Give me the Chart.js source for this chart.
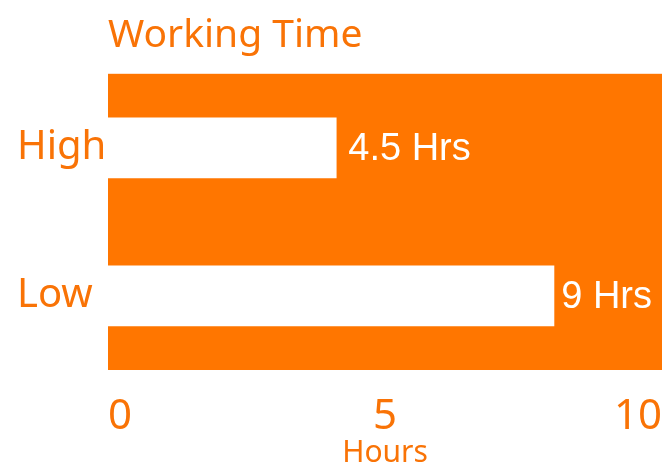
<!DOCTYPE html>
<html>
<head>
<meta charset="utf-8">
<script src="https://cdn.jsdelivr.net/npm/chart.js@4"></script>
<style>
  html, body { margin: 0; padding: 0; background: #ffffff; }
  #wrap { width: 668px; height: 471px; }
</style>
</head>
<body>
<div id="wrap"><canvas id="chart"></canvas></div>
<script>
/* Working Time — horizontal bars on an orange plot area */

const categories = ["High", "Low"];
const hours = [4.12, 8.05];
const valueLabels = ["4.5 Hrs", "9 Hrs"];
const xMin = 0;
const xMax = 10;
const xStep = 5;

const ORANGE = "#FF7600";
const TEXT = "#F97306";
const FONT = "'Noto Sans', 'Open Sans', sans-serif";

// fill the chart area with orange before anything else is drawn
const areaBg = {
  id: "areaBg",
  beforeDraw(chart) {
    const { ctx, chartArea: a } = chart;
    ctx.save();
    ctx.fillStyle = ORANGE;
    ctx.fillRect(a.left, a.top, a.right - a.left, a.bottom - a.top);
    ctx.restore();
  }
};

// "x Hrs" text just past the end of each bar, kept inside the plot area
const barText = {
  id: "barText",
  afterDatasetsDraw(chart) {
    const { ctx, chartArea: a } = chart;
    const meta = chart.getDatasetMeta(0);
    ctx.save();
    ctx.fillStyle = "#ffffff";
    ctx.font = "38px 'Liberation Sans', Arial, sans-serif";
    ctx.textAlign = "left";
    ctx.textBaseline = "middle";
    meta.data.forEach((bar, i) => {
      const w = ctx.measureText(valueLabels[i]).width;
      const x = Math.min(bar.x + 12, a.right - 10 - w);
      ctx.fillText(valueLabels[i], x, bar.y + 2);
    });
    ctx.restore();
  }
};

new Chart(document.getElementById("chart"), {
  type: "bar",
  data: {
    labels: categories,
    datasets: [{
      data: hours,
      backgroundColor: "#ffffff",
      borderWidth: 0,
      barThickness: 60
    }]
  },
  options: {
    indexAxis: "y",
    responsive: true,
    maintainAspectRatio: false,
    animation: false,
    layout: { padding: { left: 17, right: 6, top: 0, bottom: 0 } },
    plugins: {
      legend: { display: false },
      tooltip: { enabled: false },
      title: {
        display: true,
        text: "Working Time",
        align: "start",
        fullSize: false,
        color: TEXT,
        font: { family: FONT, size: 39, weight: "normal" },
        padding: { top: 12, bottom: 15 }
      }
    },
    scales: {
      x: {
        min: xMin,
        max: xMax,
        grid: { display: false, drawTicks: false },
        border: { display: false },
        ticks: {
          stepSize: xStep,
          align: "inner",
          maxRotation: 0,
          padding: 22,
          color: TEXT,
          font: { family: FONT, size: 42 }
        },
        title: {
          display: true,
          text: "Hours",
          color: TEXT,
          font: { family: FONT, size: 30 },
          padding: 0
        },
        afterFit: (s) => {
          s.height = 101;
          s.paddingLeft = 0;
          s.paddingRight = 0;
        }
      },
      y: {
        grid: { display: false, drawTicks: false },
        border: { display: false },
        ticks: {
          crossAlign: "far",
          padding: 4,
          color: TEXT,
          font: { family: FONT, size: 40 }
        },
        afterFit: (s) => { s.width = 91; }
      }
    }
  },
  plugins: [areaBg, barText]
});
</script>
</body>
</html>
